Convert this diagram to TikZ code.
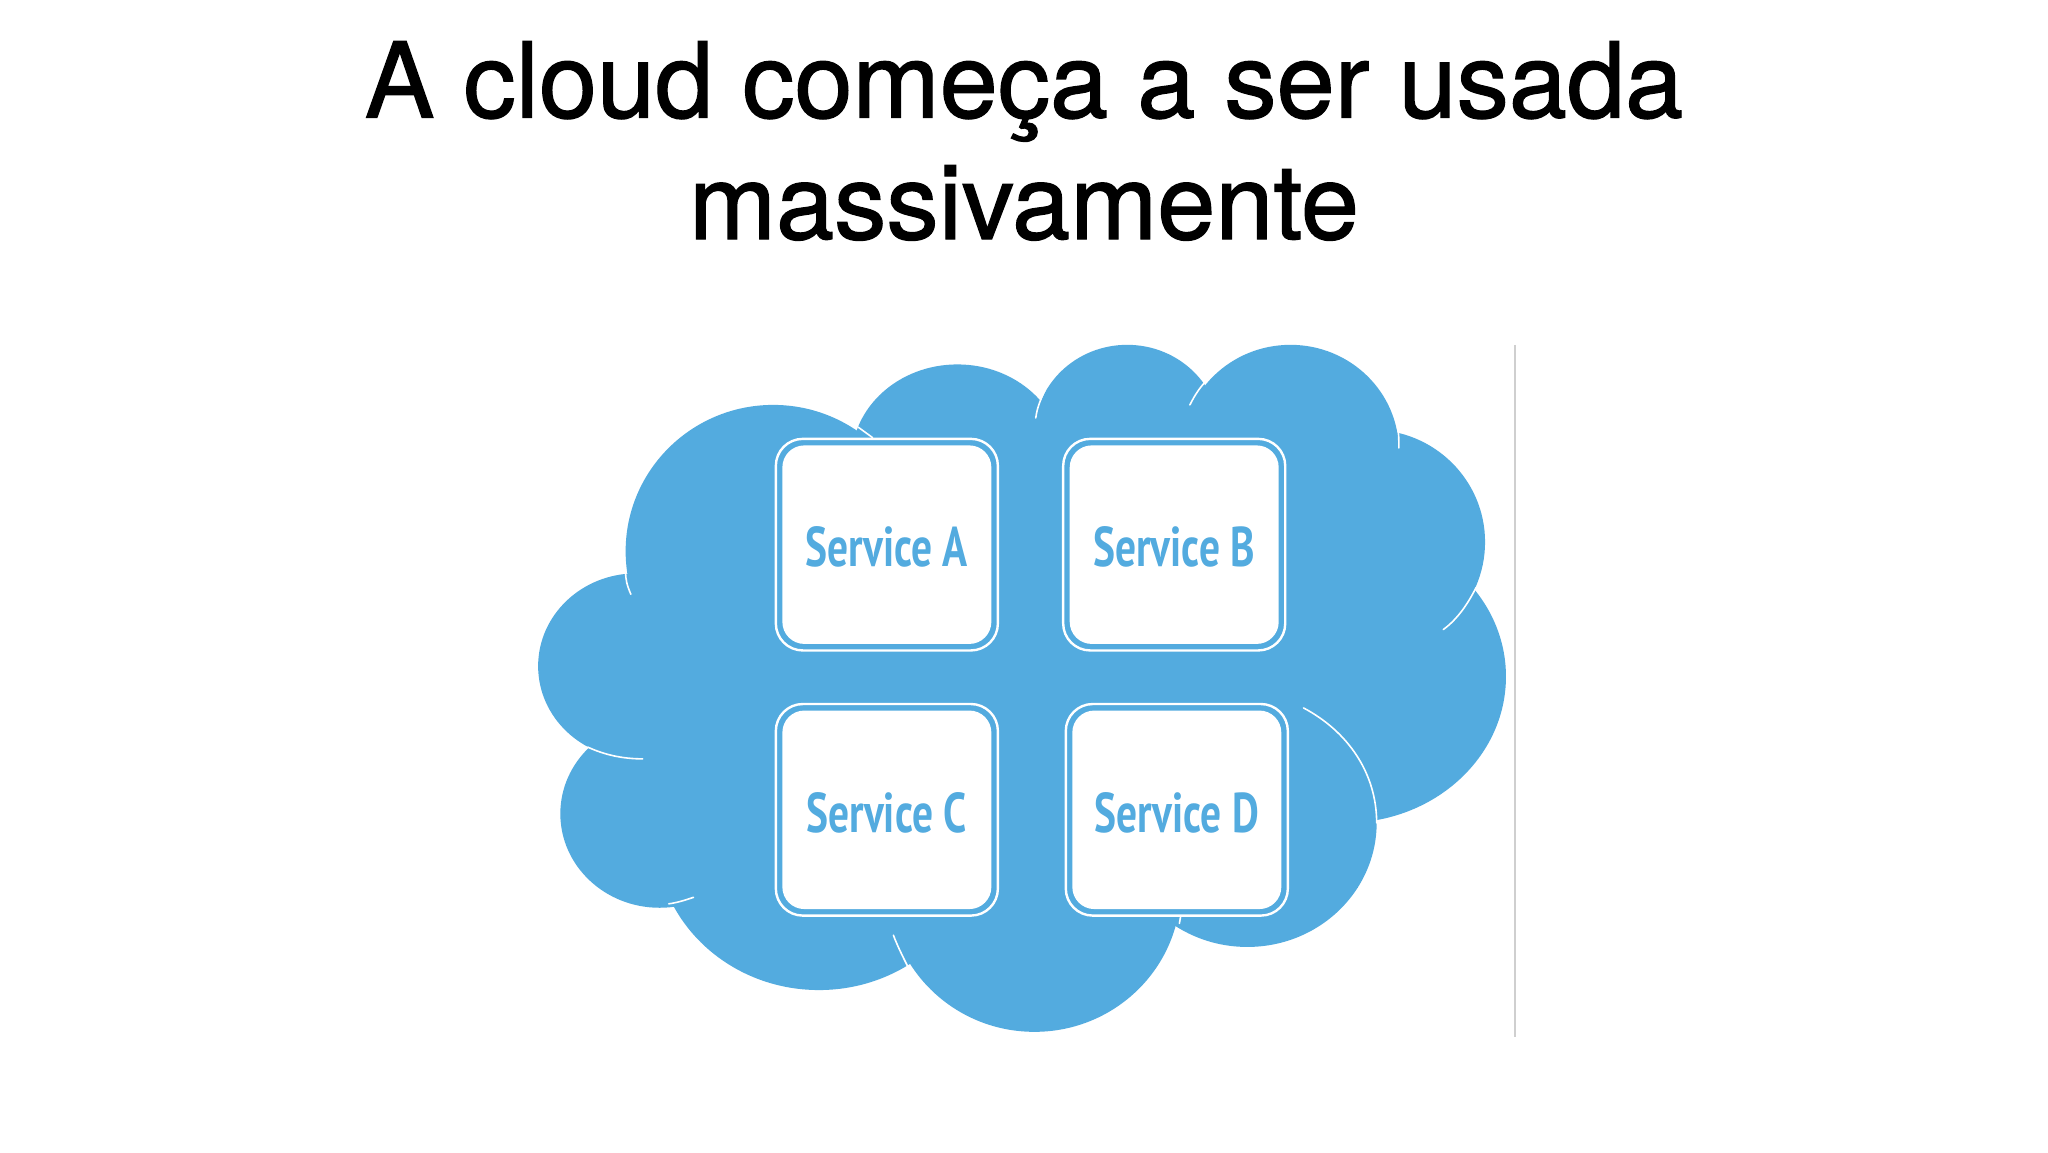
\documentclass[tikz,border=0pt]{standalone}
\usepackage{fontspec}
\setmainfont{TeX Gyre Heros}[FakeBold=1.2]
\newfontfamily\svcfont[FakeStretch=0.74]{PT Sans}
\definecolor{cloudblue}{HTML}{53ABDF}
\definecolor{rulegray}{HTML}{CFCFCF}
\tikzset{
  x=1.30612pt, y=-1.30612pt,
  titletext/.style={font=\fontsize{104.5}{104.5}\selectfont, text=black, anchor=base, inner sep=0pt},
  lobe/.style={fill=cloudblue, draw=none},
  seam/.style={draw=white, line width=1.6pt, line cap=round},
  outerbox/.style={draw=white, line width=2.4pt, rounded corners=27pt, fill=cloudblue},
  innerbox/.style={fill=white, draw=none, rounded corners=22pt},
  svclabel/.style={font=\svcfont\bfseries\fontsize{56}{56}\selectfont, text=cloudblue, inner sep=0pt}
}
\begin{document}
\begin{tikzpicture}
\useasboundingbox[fill=white] (0,0) rectangle (1568,882);
\node[titletext] (t1) at (784,90) {A cloud começa a ser usada};
\node[titletext] (t2) at (784,183) {massivamente};
% cloud lobes
\fill[lobe] (592,422) ellipse [x radius=113, y radius=112];
\fill[lobe] (733,352) ellipse [x radius=81, y radius=73];
\fill[lobe] (863,332) ellipse [x radius=71, y radius=68];
\fill[lobe] (988,345) ellipse [x radius=83, y radius=81];
\fill[lobe] (1050,415) ellipse [x radius=87, y radius=86];
\fill[lobe] (1030,518) ellipse [x radius=123, y radius=112];
\fill[lobe] (955,630) ellipse [x radius=99, y radius=95];
\fill[lobe] (792,680) ellipse [x radius=112, y radius=110];
\fill[lobe] (627,640) ellipse [x radius=125, y radius=118];
\fill[lobe] (505,623) ellipse [x radius=76, y radius=72];
\fill[lobe] (487,510) ellipse [x radius=75, y radius=71];
\fill[lobe] (560,345) rectangle (1040,680);
\fill[lobe] (500,500) rectangle (600,680);
% seams
\draw[seam] (483,455) .. controls (480,448) and (479,444) .. (479,438);
\draw[seam] (657,327) -- (668,335);
\draw[seam] (793,320) .. controls (794,312) and (797,305) .. (800,299);
\draw[seam] (911,310) .. controls (915,302) and (919,296) .. (925,290);
\draw[seam] (1071,343) .. controls (1071,337) and (1071,332) .. (1070,326);
\draw[seam] (1105,482) .. controls (1116,474) and (1124,462) .. (1130,450);
\draw[seam] (998,542) .. controls (1032,560) and (1054,592) .. (1054,630);
\draw[seam] (450,572) .. controls (463,578) and (477,581) .. (492,581);
\draw[seam] (512,692) .. controls (519,691) and (525,689) .. (531,687);
\draw[seam] (684,716) .. controls (687,724) and (691,732) .. (695,740);
\draw[seam] (904,701) -- (903,707);
% service boxes
\foreach \n/\l/\t/\txt in {A/594/336/Service A, B/814/336/Service B, C/594/539/Service C, D/816/539/Service D}{
  \draw[outerbox] (\l,\t) rectangle ++(170,162);
  \fill[innerbox] (\l+5,\t+5) rectangle ++(160,152);
  \node[svclabel] (svc\n) at (\l+85,\t+83) {\txt};
}
% divider
\draw[rulegray, line width=1.3pt] (1160,264) -- (1160,794);
\end{tikzpicture}
\end{document}
